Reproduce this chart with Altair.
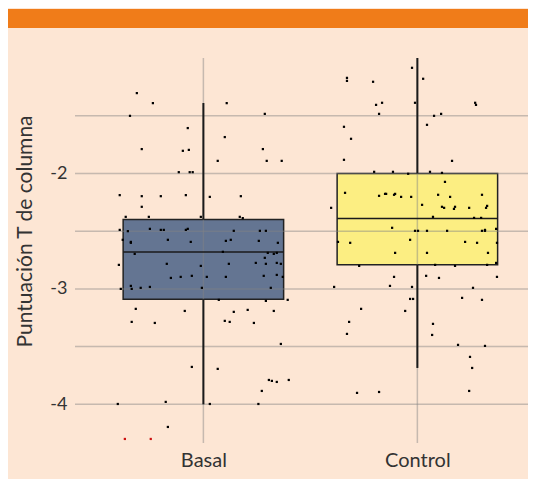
import altair as alt
import pandas as pd

# ---- data ----
groups = ["Basal", "Control"]
group_pos = [1, 2]
box_colors = ["#647592", "#fcee82"]
q1 = [-3.09, -2.79]
median = [-2.68, -2.39]
q3 = [-2.40, -2.00]
whisk_low = [-4.00, -3.685]
whisk_high = [-1.39, -1.00]

basal_jitter = [
    -0.311, -0.236, 0.109, -0.343, 0.287, -0.073, 0.100, -0.288, -0.096, -0.068,
    0.278, 0.067, 0.296, 0.366, -0.115, -0.064, -0.050, -0.391, -0.288, -0.199,
    -0.082, 0.030, 0.175, -0.288, -0.363, -0.255, -0.012, 0.170, 0.184, -0.391,
    -0.353, -0.250, -0.199, -0.185, -0.082, -0.073, 0.142, 0.264, 0.292, -0.377,
    -0.339, -0.339, -0.166, -0.059, 0.105, 0.128, 0.259, 0.348, -0.321, 0.091,
    0.301, 0.329, 0.343, 0.287, -0.395, -0.171, -0.012, 0.119, 0.245, 0.292,
    0.343, 0.362, -0.152, -0.106, -0.054, 0.016, 0.105, 0.282, 0.343, 0.371,
    -0.339, -0.386, -0.335, -0.293, -0.250, -0.007, 0.315, 0.072, 0.292, 0.394,
    -0.316, -0.087, 0.142, 0.207, 0.329, -0.335, -0.227, 0.100, 0.123, 0.236,
    0.362, -0.054, 0.067, 0.306, 0.320, 0.343, 0.399, 0.273, -0.400, -0.176,
    0.030, 0.257, -0.166,
]
basal_values = [
    -1.304, -1.391, -1.391, -1.501, -1.484, -1.607, -1.685, -1.789, -1.804, -1.796,
    -1.789, -1.891, -1.891, -1.891, -1.989, -1.989, -1.989, -2.188, -2.197, -2.197,
    -2.188, -2.203, -2.197, -2.289, -2.376, -2.376, -2.376, -2.376, -2.387, -2.489,
    -2.500, -2.480, -2.489, -2.489, -2.489, -2.480, -2.497, -2.497, -2.497, -2.575,
    -2.593, -2.601, -2.575, -2.593, -2.584, -2.575, -2.584, -2.601, -2.697, -2.679,
    -2.688, -2.697, -2.688, -2.731, -2.792, -2.783, -2.801, -2.783, -2.775, -2.783,
    -2.775, -2.783, -2.905, -2.896, -2.887, -2.896, -2.896, -2.887, -2.879, -2.896,
    -2.974, -3.000, -3.000, -2.991, -2.983, -2.991, -2.991, -3.095, -3.104, -3.095,
    -3.173, -3.191, -3.199, -3.182, -3.191, -3.286, -3.295, -3.277, -3.286, -3.295,
    -3.477, -3.676, -3.693, -3.789, -3.797, -3.806, -3.789, -3.884, -3.997, -3.979,
    -3.997, -3.997, -4.196,
]
basal_red_jitter = [-0.367, -0.246]
basal_red_values = [-4.300, -4.300]

control_jitter = [
    -0.025, -0.329, -0.329, -0.207, 0.027, -0.193, -0.165, -0.011, 0.270, 0.274,
    -0.179, 0.078, 0.111, -0.343, 0.045, -0.310, -0.343, 0.162, -0.202, -0.114,
    -0.043, 0.059, 0.115, 0.129, -0.338, -0.179, -0.151, -0.146, -0.109, -0.104,
    -0.076, -0.029, 0.097, 0.153, 0.302, -0.403, 0.022, 0.115, 0.125, 0.171,
    0.176, 0.242, 0.321, 0.326, 0.073, 0.265, 0.298, -0.118, -0.011, 0.003,
    0.045, 0.139, 0.302, 0.316, 0.316, 0.368, -0.371, -0.314, -0.034, 0.223,
    0.279, 0.372, -0.104, 0.045, 0.330, -0.272, 0.083, 0.176, 0.326, 0.368,
    -0.109, 0.041, 0.101, 0.372, -0.389, -0.128, -0.025, 0.260, -0.034, -0.020,
    0.209, 0.302, -0.263, -0.057, -0.319, 0.073, -0.329, 0.069, 0.190, 0.316,
    0.246, 0.256, -0.282, -0.179, 0.242,
]
control_values = [
    -1.085, -1.172, -1.198, -1.206, -1.180, -1.406, -1.388, -1.388, -1.388, -1.406,
    -1.484, -1.501, -1.484, -1.596, -1.579, -1.700, -1.882, -1.891, -1.986, -1.986,
    -2.003, -1.986, -1.995, -2.073, -2.168, -2.194, -2.177, -2.177, -2.185, -2.177,
    -2.203, -2.203, -2.185, -2.203, -2.185, -2.298, -2.272, -2.289, -2.298, -2.307,
    -2.289, -2.298, -2.298, -2.281, -2.376, -2.385, -2.385, -2.471, -2.497, -2.497,
    -2.497, -2.497, -2.497, -2.489, -2.497, -2.480, -2.593, -2.601, -2.575, -2.593,
    -2.601, -2.601, -2.688, -2.688, -2.688, -2.801, -2.792, -2.801, -2.792, -2.775,
    -2.896, -2.887, -2.905, -2.896, -2.983, -2.974, -2.983, -2.991, -3.087, -3.087,
    -3.078, -3.095, -3.173, -3.191, -3.286, -3.303, -3.390, -3.399, -3.485, -3.494,
    -3.589, -3.685, -3.901, -3.893, -3.884,
]

y_grid_values = [-4.0, -3.5, -3.0, -2.5, -2.0, -1.5]
y_label_values = [-4, -3, -2]

# ---- tables ----
box_df = pd.DataFrame({
    "group": groups, "pos": group_pos, "q1": q1, "median": median, "q3": q3,
    "low": whisk_low, "high": whisk_high,
})
pts = []
for j, v in zip(basal_jitter, basal_values):
    pts.append({"pos": 1, "jit": j, "val": v, "kind": "n"})
for j, v in zip(basal_red_jitter, basal_red_values):
    pts.append({"pos": 1, "jit": j, "val": v, "kind": "r"})
for j, v in zip(control_jitter, control_values):
    pts.append({"pos": 2, "jit": j, "val": v, "kind": "n"})
pts_df = pd.DataFrame(pts)
hgrid_df = pd.DataFrame({"v": y_grid_values})
vgrid_df = pd.DataFrame({"pos": group_pos})
band_df = pd.DataFrame({"a": [0]})

FONT = "Lato"
TXT = "#333333"
HALF = 0.375

xscale = alt.Scale(domain=[0.4, 2.517], nice=False, zero=False)
yscale = alt.Scale(domain=[-4.335, -1.0], nice=False, zero=False)
xaxis = alt.Axis(values=group_pos, labelExpr="datum.value == 1 ? 'Basal' : 'Control'",
                 domain=False, ticks=False, tickSize=0, grid=False, title=None,
                 labelFont=FONT, labelFontSize=20, labelColor=TXT,
                 labelBaseline="alphabetic", labelPadding=23)
yaxis = alt.Axis(values=y_label_values, labelExpr="'-' + abs(datum.value)",
                 domain=False, ticks=False, tickSize=0, grid=False,
                 title="Puntuación T de columna", titleFont=FONT, titleFontSize=21,
                 titleFontWeight="normal", titleColor=TXT, titleX=-44, titleY=173,
                 titleAngle=270, titleBaseline="alphabetic", titleAlign="center",
                 labelFont=FONT, labelFontSize=18, labelColor=TXT, labelPadding=8)

GRID_STYLE = dict(color="#828282", opacity=0.45, strokeWidth=1.5)

band = alt.Chart(band_df).mark_rect(color="#f07c19").encode(
    x=alt.value(-67), x2=alt.value(453), y=alt.value(-49), y2=alt.value(-30))

boxes = alt.Chart(box_df).transform_calculate(
    x1=f"datum.pos - {HALF}", x2=f"datum.pos + {HALF}"
).mark_rect(stroke="#222222", strokeWidth=1.5).encode(
    x=alt.X("x1:Q", scale=xscale, axis=xaxis),
    x2="x2:Q",
    y=alt.Y("q1:Q", scale=yscale, axis=yaxis),
    y2="q3:Q",
    color=alt.Color("group:N", scale=alt.Scale(domain=groups, range=box_colors), legend=None),
)

hgrid = alt.Chart(hgrid_df).mark_rule(**GRID_STYLE).encode(
    y=alt.Y("v:Q", scale=yscale, axis=yaxis))
vgrid = alt.Chart(vgrid_df).mark_rule(**GRID_STYLE).encode(
    x=alt.X("pos:Q", scale=xscale, axis=xaxis))

whisk_up = alt.Chart(box_df).mark_rule(color="#1a1a1a", strokeWidth=2).encode(
    x=alt.X("pos:Q", scale=xscale, axis=xaxis),
    y=alt.Y("q3:Q", scale=yscale, axis=yaxis), y2="high:Q")
whisk_dn = alt.Chart(box_df).mark_rule(color="#1a1a1a", strokeWidth=2).encode(
    x=alt.X("pos:Q", scale=xscale, axis=xaxis),
    y=alt.Y("low:Q", scale=yscale, axis=yaxis), y2="q1:Q")

med = alt.Chart(box_df).transform_calculate(
    x1=f"datum.pos - {HALF}", x2=f"datum.pos + {HALF}"
).mark_rule(color="#1a1a1a", strokeWidth=1.5).encode(
    x=alt.X("x1:Q", scale=xscale, axis=xaxis), x2="x2:Q",
    y=alt.Y("median:Q", scale=yscale, axis=yaxis))

points = alt.Chart(pts_df).transform_calculate(
    xj="datum.pos + datum.jit"
).mark_square(size=5, opacity=1).encode(
    x=alt.X("xj:Q", scale=xscale, axis=xaxis),
    y=alt.Y("val:Q", scale=yscale, axis=yaxis),
    color=alt.Color("kind:N", scale=alt.Scale(domain=["n", "r"], range=["#000000", "#cc1111"]),
                    legend=None),
)

chart = alt.layer(band, boxes, hgrid, vgrid, whisk_up, whisk_dn, med, points).resolve_scale(
    color="independent"
).properties(
    width=453, height=385,
    padding={"left": 67, "top": 50, "right": 0, "bottom": 36},
    autosize=alt.AutoSizeParams(type="none"),
    background="#fde6d4",
).configure_view(stroke=None)

chart.save("out.html", embed_options={"renderer": "svg", "actions": False})
